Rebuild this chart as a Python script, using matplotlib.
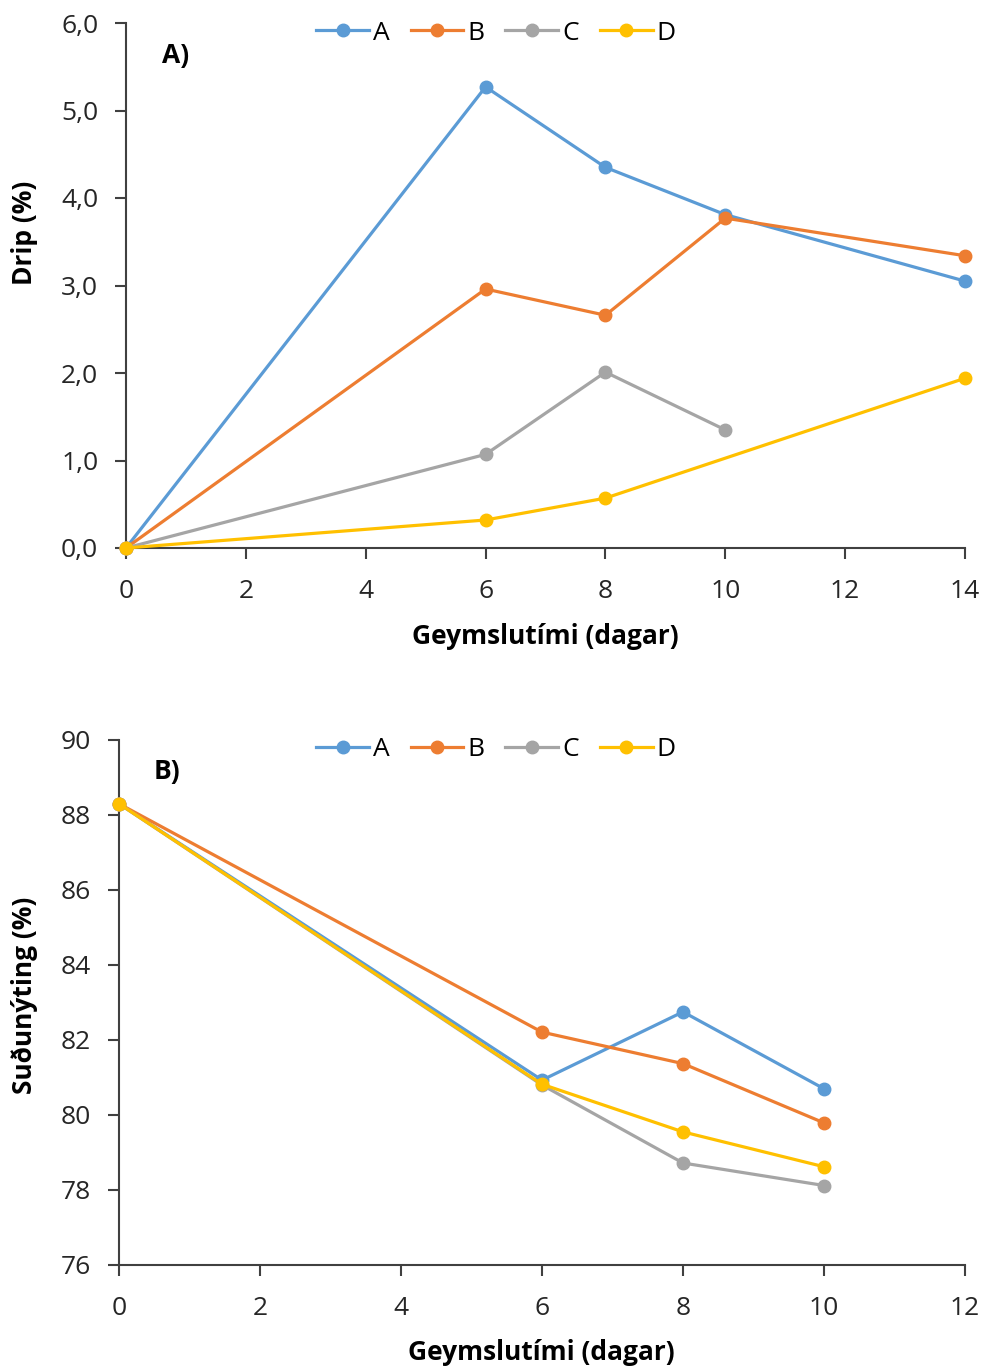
import numpy as np
import matplotlib
matplotlib.use('Agg')
import matplotlib.pyplot as plt
from matplotlib.ticker import FuncFormatter

plt.rcParams['font.family'] = ['Open Sans', 'DejaVu Sans']

# Panel A: drip (%)
days_a = {'A': [0, 6, 8, 10, 14], 'B': [0, 6, 8, 10, 14], 'C': [0, 6, 8, 10], 'D': [0, 6, 8, 14]}
drip = {
    'A': [0.0, 5.27, 4.35, 3.81, 3.05],
    'B': [0.0, 2.96, 2.66, 3.77, 3.34],
    'C': [0.0, 1.07, 2.01, 1.35],
    'D': [0.0, 0.32, 0.57, 1.94],
}

# Panel B: suðunýting (%)
days_b = [0, 6, 8, 10]
yield_b = {
    'A': [88.3, 80.93, 82.75, 80.70],
    'B': [88.3, 82.21, 81.37, 79.79],
    'C': [88.3, 80.80, 78.72, 78.12],
    'D': [88.3, 80.82, 79.55, 78.62],
}

colors = {'A': '#5B9BD5', 'B': '#ED7D31', 'C': '#A5A5A5', 'D': '#FFC000'}
series = ['A', 'B', 'C', 'D']
fs = 19

fig = plt.figure(figsize=(9.84, 13.69), dpi=100)
ax1 = fig.add_axes([126/984, 1-548/1369, (965-126)/984, (548-23)/1369])
ax2 = fig.add_axes([119/984, 1-1265/1369, (965-119)/984, (1265-740)/1369])

for s in series:
    ax1.plot(days_a[s], drip[s], color=colors[s], marker='o', markersize=9, lw=2.3,
             label=s, clip_on=False, zorder=3)
    ax2.plot(days_b, yield_b[s], color=colors[s], marker='o', markersize=9, lw=2.3,
             label=s, clip_on=False, zorder=3)

ax1.set_xlim(0, 14)
ax1.set_ylim(0, 6)
ax1.set_xticks(np.arange(0, 15, 2))
ax1.set_yticks(np.arange(0, 6.1, 1))
ax1.yaxis.set_major_formatter(FuncFormatter(lambda v, p: f'{v:.1f}'.replace('.', ',')))

ax2.set_xlim(0, 12)
ax2.set_ylim(76, 90)
ax2.set_xticks(np.arange(0, 13, 2))
ax2.set_yticks(np.arange(76, 91, 2))

for ax in (ax1, ax2):
    for sp in ('top', 'right'):
        ax.spines[sp].set_visible(False)
    for sp in ('left', 'bottom'):
        ax.spines[sp].set_color('#404040')
        ax.spines[sp].set_linewidth(1.5)
    ax.tick_params(direction='out', length=8, width=1.5, color='#404040',
                   labelsize=fs, labelcolor='#262626')
    ax.tick_params(axis='x', pad=14)
    ax.tick_params(axis='y', pad=12)

ax1.set_ylabel('Drip (%)', fontsize=fs, fontweight='bold', va='center')
ax1.yaxis.set_label_coords((25-126)/839, 0.6)
ax1.set_xlabel('Geymslutími (dagar)', fontsize=fs, fontweight='bold', va='center')
ax1.xaxis.set_label_coords(0.5, (548-636)/525)

ax2.set_ylabel('Suðunýting (%)', fontsize=fs, fontweight='bold', va='center')
ax2.yaxis.set_label_coords((25-119)/846, 0.514)
ax2.set_xlabel('Geymslutími (dagar)', fontsize=fs, fontweight='bold', va='center')
ax2.xaxis.set_label_coords((541-119)/846, (1265-1353)/525)

fig.text(162/984, 1-55/1369, 'A)', fontsize=fs, fontweight='bold', va='center')
fig.text(154/984, 1-772/1369, 'B)', fontsize=fs, fontweight='bold', va='center')

for ax, yc in ((ax1, 33), (ax2, 750)):
    ax.legend(loc='center', bbox_to_anchor=(496/984, 1-yc/1369), bbox_transform=fig.transFigure,
              ncol=4, frameon=False, fontsize=fs, handlelength=2.0, handletextpad=0.15,
              columnspacing=0.8, borderpad=0)

fig.savefig('out.png', dpi=100)
